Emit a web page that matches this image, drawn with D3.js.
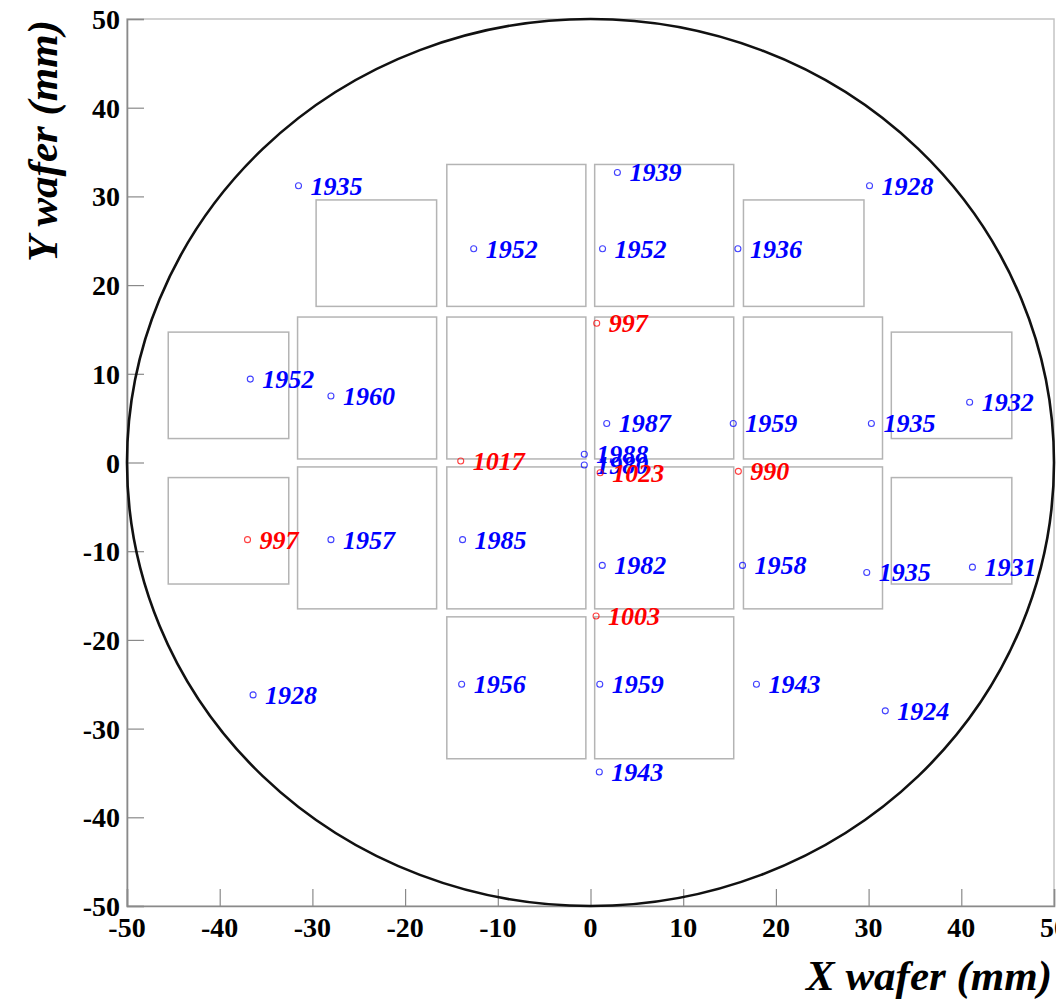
<!DOCTYPE html>
<html>
<head>
<meta charset="utf-8">
<script src="https://cdn.jsdelivr.net/npm/d3@7"></script>
<style>
  body { margin: 0; background: #fff; }
  svg { display: block; }
  .tick-label { font-family: 'Liberation Serif', 'Times New Roman', serif; font-weight: bold; font-size: 28px; fill: #000; }
  .title { font-family: 'Liberation Serif', 'Times New Roman', serif; font-weight: bold; font-style: italic; font-size: 43px; fill: #000; }
  .pt-label { font-family: 'Liberation Serif', 'Times New Roman', serif; font-weight: bold; font-style: italic; font-size: 26px; }
</style>
</head>
<body>
<svg id="chart"></svg>
<script>
'use strict';

// axis ranges (mm)
var xDomain = [-50, 50]
var yDomain = [-50, 50]
var majorTicks = [-50, -40, -30, -20, -10, 0, 10, 20, 30, 40, 50]
var waferRadius = 50

// sensor outlines: [x0, x1, y0, y1] in mm
var sensorX0 = [-15.5, 0.45, -31.6, -15.5, 0.45, 16.5, -31.6, -15.5, 0.45, 16.5, -15.5, 0.45, -45.55, -45.55, 32.45, 32.45, -29.6, 16.5]
var sensorX1 = [-0.5, 15.45, -16.6, -0.5, 15.45, 31.5, -16.6, -0.5, 15.45, 31.5, -0.5, 15.45, -32.55, -32.55, 45.45, 45.45, -16.6, 29.5]
var sensorY0 = [17.6, 17.6, 0.4, 0.4, 0.4, 0.4, -16.5, -16.5, -16.5, -16.5, -33.4, -33.4, 2.7, -13.7, 2.7, -13.7, 17.6, 17.6]
var sensorY1 = [33.6, 33.6, 16.4, 16.4, 16.4, 16.4, -0.5, -0.5, -0.5, -0.5, -17.4, -17.4, 14.7, -1.7, 14.7, -1.7, 29.6, 29.6]

// measured points, blue series
var blueX = [-31.5, -12.6, 1.3, 2.9, 15.9, 30.1, -36.7, -28.0, -28.0, 1.75, 15.4, -0.67, -0.67, -13.8, 1.27, 16.4, 30.3, 40.9, 29.8, 41.2, -36.4, -13.9, 1.0, 17.9, 31.8, 0.95]
var blueY = [31.2, 24.1, 24.1, 32.7, 24.1, 31.2, 9.4, 7.5, -8.7, 4.4, 4.4, 0.93, -0.28, -8.7, -11.6, -11.6, 4.4, 6.8, -12.4, -11.8, -26.2, -25.0, -25.0, -25.0, -28.0, -34.9]
var blueVal = ['1935', '1952', '1952', '1939', '1936', '1928', '1952', '1960', '1957', '1987', '1959', '1988', '1980', '1985', '1982', '1958', '1935', '1932', '1935', '1931', '1928', '1956', '1959', '1943', '1924', '1943']

// measured points, red series
var redX = [-37.0, 0.67, -14.0, 1.04, 15.95, 0.6]
var redY = [-8.7, 15.7, 0.17, -1.15, -1.0, -17.3]
var redVal = ['997', '997', '1017', '1023', '990', '1003']

var width = 1056, height = 999
var margin = { left: 127, right: 2, top: 19, bottom: 93 }

var svg = d3.select('#chart').attr('width', width).attr('height', height)

var xScale = d3.scaleLinear().domain(xDomain).range([margin.left, width - margin.right])
var yScale = d3.scaleLinear().domain(yDomain).range([height - margin.bottom, margin.top])

var minorTicks = d3.range(-50, 50.001, 2)

// frame (top / right)
svg.append('rect')
  .attr('x', xScale(-50))
  .attr('y', yScale(50))
  .attr('width', xScale(50) - xScale(-50))
  .attr('height', yScale(-50) - yScale(50))
  .attr('fill', 'none')
  .attr('stroke', '#c4c4c4')
  .attr('stroke-width', 1.5)

// x axis: ticks pointing up
var xAxisG = svg.append('g').attr('transform', 'translate(0,' + yScale(-50) + ')')
xAxisG.call(d3.axisTop(xScale).tickValues(minorTicks).tickSize(9).tickFormat(''))
xAxisG.call(d3.axisTop(xScale).tickValues(majorTicks).tickSize(17).tickFormat(''))
xAxisG.selectAll('path.domain').attr('stroke', '#8a8a8a').attr('stroke-width', 1.6)
xAxisG.selectAll('.tick line').attr('stroke', '#8a8a8a').attr('stroke-width', 1.2)

xAxisG.selectAll('text.tick-label')
  .data(majorTicks)
  .enter().append('text')
  .attr('class', 'tick-label')
  .attr('x', function(d) { return xScale(d) })
  .attr('y', 31)
  .attr('text-anchor', 'middle')
  .text(function(d) { return d })

// y axis: ticks pointing right
var yAxisG = svg.append('g').attr('transform', 'translate(' + xScale(-50) + ',0)')
yAxisG.call(d3.axisRight(yScale).tickValues(minorTicks).tickSize(9).tickFormat(''))
yAxisG.call(d3.axisRight(yScale).tickValues(majorTicks).tickSize(17).tickFormat(''))
yAxisG.selectAll('path.domain').attr('stroke', '#8a8a8a').attr('stroke-width', 1.6)
yAxisG.selectAll('.tick line').attr('stroke', '#8a8a8a').attr('stroke-width', 1.2)

yAxisG.selectAll('text.tick-label')
  .data(majorTicks)
  .enter().append('text')
  .attr('class', 'tick-label')
  .attr('x', -7)
  .attr('y', function(d) { return yScale(d) + 10 })
  .attr('text-anchor', 'end')
  .text(function(d) { return d })

// axis titles
svg.append('text')
  .attr('class', 'title')
  .attr('text-anchor', 'end')
  .attr('x', xScale(50) - 2)
  .attr('y', 990)
  .text('X wafer (mm)')

svg.append('text')
  .attr('class', 'title')
  .attr('text-anchor', 'end')
  .attr('transform', 'translate(57,' + (yScale(50) + 1) + ') rotate(-90)')
  .text('Y wafer (mm)')

// sensor outlines
svg.append('g').selectAll('rect')
  .data(d3.range(sensorX0.length))
  .enter().append('rect')
  .attr('x', function(i) { return xScale(sensorX0[i]) })
  .attr('y', function(i) { return yScale(sensorY1[i]) })
  .attr('width', function(i) { return xScale(sensorX1[i]) - xScale(sensorX0[i]) })
  .attr('height', function(i) { return yScale(sensorY0[i]) - yScale(sensorY1[i]) })
  .attr('fill', 'none')
  .attr('stroke', '#b4b4b4')
  .attr('stroke-width', 1.5)

// wafer outline
svg.append('ellipse')
  .attr('cx', xScale(0))
  .attr('cy', yScale(0))
  .attr('rx', xScale(waferRadius) - xScale(0))
  .attr('ry', yScale(0) - yScale(waferRadius))
  .attr('fill', 'none')
  .attr('stroke', '#111')
  .attr('stroke-width', 2.6)

function drawSeries(xs, ys, vals, color) {
  var g = svg.append('g')
  var idx = d3.range(xs.length)
  g.selectAll('circle')
    .data(idx)
    .enter().append('circle')
    .attr('cx', function(i) { return xScale(xs[i]) })
    .attr('cy', function(i) { return yScale(ys[i]) })
    .attr('r', 3)
    .attr('fill', 'none')
    .attr('stroke', color)
    .attr('stroke-opacity', 0.75)
    .attr('stroke-width', 1.1)
  g.selectAll('text')
    .data(idx)
    .enter().append('text')
    .attr('class', 'pt-label')
    .attr('x', function(i) { return xScale(xs[i]) + 12 })
    .attr('y', function(i) { return yScale(ys[i]) + 9 })
    .attr('fill', color)
    .text(function(i) { return vals[i] })
}

drawSeries(blueX, blueY, blueVal, '#0000ff')
drawSeries(redX, redY, redVal, '#ff0000')
</script>
</body>
</html>
